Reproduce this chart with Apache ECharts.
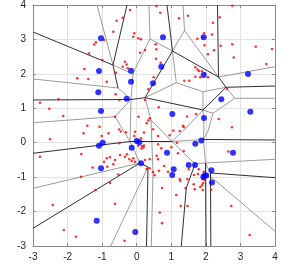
<!DOCTYPE html>
<html><head><meta charset="utf-8">
<script src="https://cdn.jsdelivr.net/npm/echarts@6/dist/echarts.min.js"></script>
<style>html,body{margin:0;padding:0;background:#fff}#c{width:293px;height:271px}</style>
</head><body><div id="c"></div>
<script>
const xTicks = [-3,-2,-1,0,1,2,3,4];
const yTicks = [-3,-2,-1,0,1,2,3,4];

const bluePoints = [
[-1.033,3.033],[0.760,3.062],[1.938,3.062],[-1.091,2.083],[-0.165,2.092],[0.711,2.208],[1.938,1.967],[3.219,1.996],
[-0.165,1.772],[0.471,1.726],[-1.111,1.464],[-0.290,1.279],[2.447,1.261],[-1.033,0.921],[3.286,0.901],[1.030,0.834],
[1.946,0.718],[0.000,0.050],[0.075,0.012],[-1.091,-0.087],[-0.984,0.001],[-0.145,-0.145],[1.868,0.064],[1.695,-0.028],
[0.876,-0.290],[2.785,-0.290],[0.124,-0.598],[-1.033,-0.743],[1.504,-0.647],[1.686,-0.647],[1.070,-0.772],[1.027,-0.938],
[2.163,-0.798],[1.967,-0.952],[2.013,-0.952],[1.926,-0.996],[2.178,-1.155],[-1.157,-2.265],[-0.041,-2.593]
];

const redPoints = [
[-0.194,3.855],[-0.405,3.631],[-0.579,3.544],[-0.677,3.225],[-0.070,3.178],[-0.099,3.079],[0.046,3.033],[0.124,3.004],
[-1.178,2.917],[-1.227,2.853],[-0.946,2.983],[0.240,2.693],[-1.380,2.591],[0.095,2.615],[-0.995,2.403],[-0.339,2.353],
[-0.290,2.272],[-0.405,2.208],[-0.261,2.161],[-1.516,2.141],[-0.599,2.034],[-0.868,1.772],[-1.719,1.871],[-1.400,1.851],
[0.335,1.552],[-2.268,1.261],[-2.798,1.162],[-2.529,0.988],[-0.608,1.406],[-0.504,1.241],[0.240,1.241],[-2.124,0.776],
[-0.628,0.756],[0.052,0.756],[0.335,0.645],[-1.429,0.494],[-1.076,0.465],[-0.816,0.274],[-0.507,0.384],[-0.454,0.326],
[-0.310,0.303],[-0.049,0.320],[0.211,0.297],[0.289,0.564],[-1.539,0.274],[-0.070,0.195],[-2.508,0.099],[-1.013,0.195],
[0.124,0.128],[-2.798,-0.409],[-1.603,-0.328],[-0.868,-0.453],[-0.773,-0.423],[-0.628,-0.502],[-0.677,-0.627],[-0.483,-0.357],
[-0.339,-0.406],[-0.281,-0.336],[-0.214,-0.482],[-0.099,-0.453],[-0.049,-0.551],[-0.145,-0.531],[-0.504,-0.017],[0.046,-0.087],
[0.153,-0.095],[0.196,-0.139],[0.139,-0.168],[0.211,-0.081],[-0.946,-0.551],[-1.273,-0.720],[-0.851,-0.696],[-0.533,-0.923],
[-1.612,-0.990],[-0.773,-1.170],[-1.192,-1.373],[-0.628,-1.771],[-2.430,-1.809],[-2.109,-2.535],[-1.762,-2.732],[-0.350,-2.846],
[0.240,-0.502],[0.289,-0.763],
[0.567,3.970],[0.682,3.776],[1.223,3.614],[1.484,3.689],[2.765,3.980],[2.401,3.643],[2.207,3.486],[1.947,3.178],
[2.178,3.143],[1.903,3.056],[1.753,3.018],[1.961,2.832],[2.430,2.818],[2.765,2.859],[3.442,2.789],[3.914,2.722],
[2.236,2.687],[2.062,2.571],[2.806,2.475],[3.749,2.286],[0.549,2.859],[0.567,2.713],[0.558,2.437],[0.694,2.324],
[1.695,2.191],[1.758,2.127],[1.802,2.083],[1.889,2.074],[1.975,2.016],[2.062,1.900],[1.839,1.900],[1.695,1.918],
[1.521,1.801],[1.377,1.801],[2.612,1.560],[0.491,1.900],[0.636,1.029],[1.455,0.762],[1.715,0.834],[2.372,0.689],
[2.756,0.448],[1.339,0.494],[0.376,0.709],[0.471,0.390],[1.056,0.355],[1.359,0.457],
[0.616,0.195],[0.954,0.216],[1.244,0.340],[0.711,-0.162],[0.616,-0.046],[1.001,-0.133],[1.165,0.001],[1.194,-0.307],
[1.359,-0.240],[0.578,-0.377],[0.376,-0.482],[0.616,-0.482],[2.649,-0.255],[0.795,-0.676],[0.645,-0.813],[0.905,-0.842],
[0.376,-0.743],[0.471,-0.850],[0.520,-0.946],[1.244,-1.062],[1.261,-1.112],[1.463,-1.062],[1.504,-0.772],[1.793,-0.772],
[1.657,-0.938],[1.773,-0.909],[1.938,-0.842],[1.967,-1.083],[1.909,-1.062],[1.918,-1.179],[1.889,-1.237],[1.839,-1.286],
[2.155,-1.367],[1.677,-1.353],[1.649,-1.208],[1.411,-1.315],[1.145,-1.518],[1.469,-1.838],[1.273,-1.838],[2.736,-1.838],
[0.665,-2.027],[0.732,-2.337],[3.268,-2.680],[0.732,-1.315],[1.912,-1.373]
];

const darkEdges = [
[[-3,3.216],[-0.686,2.257]],
[[-0.281,4],[-0.686,2.257]],
[[-0.686,2.257],[-0.541,1.589]],
[[-3,1.241],[-0.165,1.255],[0.240,1.308]],
[[0.876,4],[1.035,2.664]],
[[1.035,2.664],[2.366,1.909]],
[[2.337,4],[2.366,1.909]],
[[1.035,2.664],[0.240,1.308]],
[[0.240,1.308],[1.918,0.950]],
[[2.366,1.909],[2.583,1.610]],
[[2.583,1.610],[4,1.647]],
[[2.583,1.610],[1.918,0.950]],
[[-3,-0.307],[-0.194,0.035],[1.021,0.035]],
[[1.932,0.094],[4,0.079]],
[[-3,-2.486],[0.095,-0.589]],
[[0.095,-0.589],[0.327,-0.705],[0.283,-3]],
[[2.135,-0.879],[4,-1.016]],
[[1.990,-0.589],[2.004,-3]],
[[2.135,-0.879],[2.143,-3]],
[[1.686,-0.618],[1.434,-1.315],[1.290,-3]]
];

const grayEdges = [
[[-1.149,4],[-0.686,2.257]],
[[0.356,4],[0.384,3.012]],
[[0.384,3.012],[0.008,2.257],[-0.107,1.996]],
[[-0.686,2.257],[-0.107,1.996]],
[[-0.107,1.996],[-0.165,1.255]],
[[-3,1.851],[-0.541,1.589]],
[[-0.541,1.589],[-0.165,1.255]],
[[-3,0.581],[-0.628,0.756]],
[[-0.165,1.255],[-0.628,0.756]],
[[-0.628,0.756],[-0.194,0.035]],
[[-0.165,1.255],[-0.194,0.035]],
[[-3,-1.324],[0.095,-0.589]],
[[-0.194,0.035],[0.095,-0.589]],
[[0.327,-0.705],[-0.752,-3]],
[[0.384,3.012],[1.035,2.664]],
[[1.339,4],[1.382,3.259]],
[[1.382,3.259],[1.035,2.664]],
[[1.382,3.259],[2.366,1.909]],
[[1.035,2.664],[1.145,1.743]],
[[0.240,1.308],[1.145,1.743]],
[[1.145,1.743],[1.918,1.482]],
[[1.918,1.482],[2.583,1.610]],
[[1.918,1.482],[1.918,0.950]],
[[2.366,1.909],[4,2.208]],
[[2.583,1.610],[2.835,1.290]],
[[2.835,1.290],[4,1.290]],
[[2.835,1.290],[2.207,0.854]],
[[1.918,0.950],[2.207,0.854]],
[[1.918,0.950],[1.455,0.457],[1.021,0.035]],
[[1.918,0.950],[1.947,0.428],[1.932,0.094]],
[[2.207,0.854],[2.062,0.340],[1.932,0.094]],
[[1.932,0.094],[1.021,0.035]],
[[1.932,0.094],[1.990,-0.589]],
[[1.021,0.035],[1.686,-0.618]],
[[1.686,-0.618],[1.990,-0.589]],
[[1.990,-0.589],[4,-0.482]],
[[1.990,-0.589],[2.135,-0.879]],
[[2.145,-0.990],[4,-2.573]],
[[0.240,1.308],[0.413,0.660]],
[[0.413,0.660],[1.021,0.035]],
[[0.413,0.660],[0.442,-0.066],[0.471,-0.879],[0.422,-3]]
];

const chart = echarts.init(document.getElementById('c'), null, {renderer:'canvas'});
const labelStyle = {color:'#262626', fontSize:10, fontFamily:'Liberation Sans, Arial, sans-serif'};
function mkAxis(pos, showLabel, margin) {
  return {
    type:'value', min:-3, max:4, interval:1, position:pos,
    axisLine:{show:true, onZero:false, lineStyle:{color:'#8a8a8a', width:1}},
    axisTick:{show:true, inside:true, length:3, lineStyle:{color:'#8a8a8a'}},
    axisLabel:Object.assign({show:showLabel, margin:margin}, labelStyle),
    splitLine:{show:showLabel, lineStyle:{color:'#e3e3e3', width:1}}
  };
}
const xA = mkAxis('bottom', true, 6);
const yA = mkAxis('left', true, 7);
chart.setOption({
  animation:false,
  backgroundColor:'#fff',
  grid:{left:33, top:5, right:18, bottom:25, containLabel:false},
  xAxis:[xA, mkAxis('top', false, 6)],
  yAxis:[yA, mkAxis('right', false, 6)],
  series:[
    {type:'lines', coordinateSystem:'cartesian2d', polyline:true, silent:true, z:2,
     lineStyle:{color:'#909090', width:0.9, opacity:1},
     data:grayEdges.map(c=>({coords:c}))},
    {type:'lines', coordinateSystem:'cartesian2d', polyline:true, silent:true, z:3,
     lineStyle:{color:'#303030', width:1, opacity:1},
     data:darkEdges.map(c=>({coords:c}))},
    {type:'scatter', data:redPoints, symbol:'circle', symbolSize:2.6, z:4,
     itemStyle:{color:'#ff0000'}, silent:true},
    {type:'scatter', data:bluePoints, symbol:'circle', symbolSize:6, z:5,
     itemStyle:{color:'#0000ff'}, silent:true}
  ]
});
</script></body></html>
